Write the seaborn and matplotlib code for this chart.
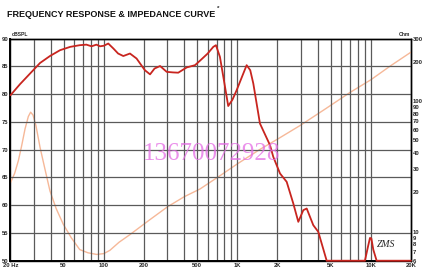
import matplotlib
matplotlib.use("Agg")
import matplotlib.pyplot as plt
import seaborn as sns
import numpy as np
import pandas as pd
from matplotlib.ticker import FixedLocator, NullLocator, NullFormatter

# ---------------- data ----------------
spl_freq = [20, 23.6, 29.6, 33.3, 39.5, 47, 56, 66, 74, 81, 88, 93.6, 100, 108, 118, 128, 140,
            157, 176, 203, 222, 240, 264, 296, 330, 361, 418, 482, 525, 600, 661, 692, 741,
            800, 855, 920, 989, 1109, 1175, 1250, 1318, 1478, 1758, 1860, 2090, 2344, 2627,
            2864, 3122, 3310, 3708, 4042, 4286, 4672, 9040, 9520, 9860, 10100, 10440, 11060, 20000]
spl_db = [79.8, 81.8, 84.3, 85.6, 86.85, 87.9, 88.5, 88.8, 88.9, 88.6, 88.9, 88.6, 88.7, 89.1, 88.2, 87.3, 86.85,
          87.3, 86.4, 84.3, 83.55, 84.6, 85.05, 84.0, 83.9, 83.85, 84.8, 85.2, 86.0, 87.3, 88.5, 88.8, 86.7,
          82.0, 77.85, 79.0, 80.7, 83.7, 85.2, 84.3, 81.9, 74.7, 70.8, 68.7, 65.7, 64.2, 60.3,
          57.0, 59.1, 59.4, 56.4, 55.2, 53.1, 50.0, 50.0, 52.5, 54.1, 54.0, 52.0, 50.0, 50.0]

imp_freq = [20, 21.5, 22.9, 24.2, 25.7, 27.2, 28.3, 29.5, 31, 33.3, 36, 39.5, 44, 49.7, 57, 66,
            76, 88.4, 100, 111, 130, 157, 220, 300, 400, 525, 750, 1000, 1500, 2000, 2949,
            4500, 6980, 10000, 14000, 20000]
imp_ohm = [23.7, 28, 34.9, 45, 61.1, 76, 82, 78, 65, 44.1, 31, 20.5, 15, 11.4, 9.0, 7.3,
           6.9, 6.7, 6.8, 7.2, 8.3, 9.5, 12.3, 15.5, 18.5, 21.2, 27, 33, 43, 51, 64.8,
           86, 116, 145, 185, 236]

xtick_vals = [20, 50, 100, 200, 500, 1000, 2000, 5000, 10000, 20000]
xtick_labels = ["20 Hz", "50", "100", "200", "500", "1K", "2K", "5K", "10K", "20K"]
ltick_vals = [50, 55, 60, 65, 70, 75, 80, 85, 90]
rtick_vals = [6, 7, 8, 9, 10, 20, 30, 40, 50, 60, 70, 80, 90, 100, 200, 300]

spl_df = pd.DataFrame({"freq": spl_freq, "db": spl_db})
imp_df = pd.DataFrame({"freq": imp_freq, "ohm": imp_ohm})

# ---------------- figure ----------------
sns.set_style("white")
plt.rcParams['font.family'] = ['Liberation Sans', 'DejaVu Sans']

fig = plt.figure(figsize=(4.22, 2.76), dpi=100)
ax = fig.add_axes([0.02488, 0.0554, 0.949, 0.805])
ax2 = ax.twinx()

ax.set_xscale("log")
ax.set_xlim(20, 20000)
ax.set_ylim(50, 90)
ax2.set_yscale("log")
ax2.set_ylim(6, 300)

# grid
minor = []
for dec in [10, 100, 1000, 10000]:
    for m in range(1, 10):
        v = dec * m
        if 20 < v < 20000:
            minor.append(v)
for v in minor:
    ax.axvline(v, color="#5a5a5a", lw=0.9, zorder=1)
for v in ltick_vals[1:-1]:
    ax.axhline(v, color="#5a5a5a", lw=0.9, zorder=1)

# impedance curve (right axis)
sns.lineplot(data=imp_df, x="freq", y="ohm", ax=ax2, color="#f6b898", lw=1.0,
             estimator=None, sort=False, zorder=3)
ax2.set_xscale("log")
ax2.set_xlim(20, 20000)

# SPL curve (left axis) drawn above
ax.set_zorder(ax2.get_zorder() + 1)
ax.patch.set_visible(False)
sns.lineplot(data=spl_df, x="freq", y="db", ax=ax, color="#c8251f", lw=1.3,
             estimator=None, sort=False, zorder=5, clip_on=False)

# ticks
ax.xaxis.set_major_locator(FixedLocator(xtick_vals))
ax.xaxis.set_minor_locator(NullLocator())
ax.set_xticklabels(xtick_labels)
ax.yaxis.set_major_locator(FixedLocator(ltick_vals))
ax.set_yticklabels([str(v) for v in ltick_vals])
ax2.yaxis.set_major_locator(FixedLocator(rtick_vals))
ax2.yaxis.set_minor_locator(NullLocator())
ax2.yaxis.set_minor_formatter(NullFormatter())
ax2.set_yticklabels([str(v) for v in rtick_vals])

for a in (ax, ax2):
    a.tick_params(axis="both", length=0, pad=1.5, labelsize=4.2)
    for lab in a.get_xticklabels() + a.get_yticklabels():
        lab.set_fontweight("bold")
ax.set_xlabel("")
ax.set_ylabel("")
ax2.set_ylabel("")
ax2.set_xlabel("")

for s in ["left", "bottom"]:
    ax.spines[s].set_linewidth(1.4)
    ax.spines[s].set_color("black")
for s in ["top", "right"]:
    ax.spines[s].set_linewidth(1.0)
    ax.spines[s].set_color("black")
for s in ax2.spines.values():
    s.set_linewidth(1.0)
    s.set_color("black")

# texts
title = fig.text(7 / 422, 1 - 17 / 276, "FREQUENCY RESPONSE & IMPEDANCE CURVE",
                 fontsize=6.5, fontweight="heavy", ha="left", va="baseline", color="#111111")
ax.annotate("*", xy=(1, 1), xycoords=title, xytext=(1.0, 3.0), textcoords="offset points",
            fontsize=4.5, fontweight="bold", ha="left", va="top", annotation_clip=False)
fig.text(12 / 422, 1 - 36 / 276, "dBSPL", fontsize=3.6, fontweight="bold", ha="left", va="baseline")
fig.text(410 / 422, 1 - 36 / 276, "Ohm", fontsize=3.6, fontweight="bold", ha="right", va="baseline")

fig.text(212 / 422, 1 - 160 / 276, "13670072928", fontsize=18, color="#e46ce4", alpha=0.75,
         ha="center", va="baseline", family=['Liberation Serif', 'DejaVu Serif'])
fig.text(386 / 422, 1 - 247 / 276, "ZMS", fontsize=7, style="italic", color="#222222",
         ha="center", va="baseline", family=['Liberation Serif', 'DejaVu Serif'])

fig.savefig("out.png", dpi=100)
